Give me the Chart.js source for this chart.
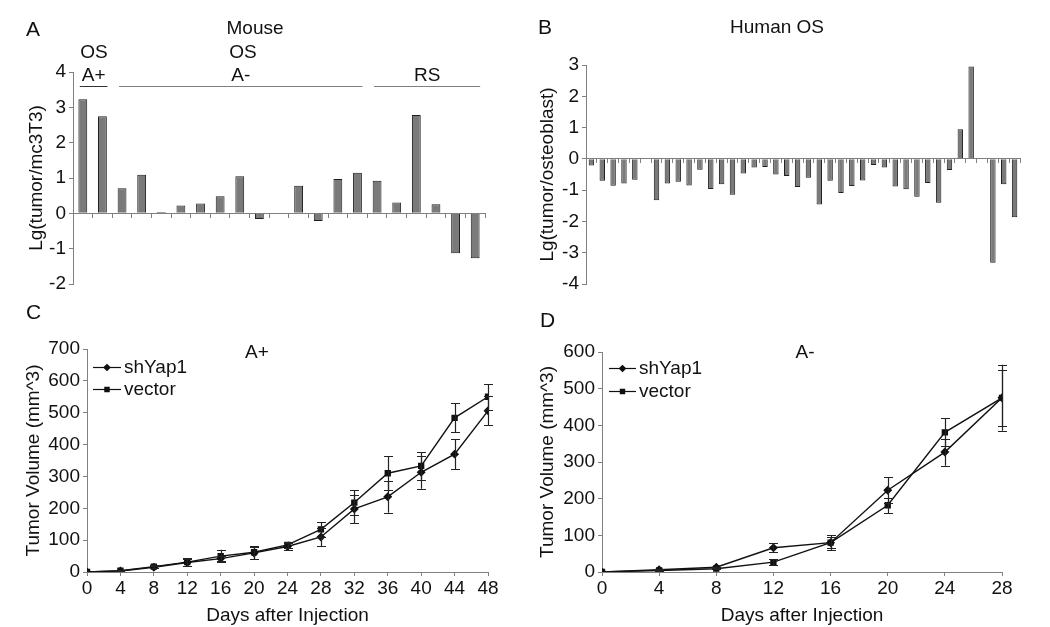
<!DOCTYPE html>
<html>
<head>
<meta charset="utf-8">
<script src="https://cdn.jsdelivr.net/npm/chart.js@4.4.1/dist/chart.umd.min.js"></script>
<style>
  body { margin: 0; background: #fff; width: 1050px; height: 627px; overflow: hidden; position: relative; }
  canvas { position: absolute; }
</style>
</head>
<body>
<canvas id="chartA" width="520" height="300" style="left:0;top:0"></canvas>
<canvas id="chartB" width="530" height="300" style="left:520px;top:0"></canvas>
<canvas id="chartC" width="520" height="327" style="left:0;top:300px"></canvas>
<canvas id="chartD" width="530" height="327" style="left:520px;top:300px"></canvas>
<script>
// panel A: mouse tumours vs mc3T3
const mouseSamples = ['1','2','3','4','5','6','7','8','9','10','11','12','13','14','15','16','17','18','19','20','21'];
const mouseValues = [3.23, 2.75, 0.71, 1.09, 0.04, 0.22, 0.28, 0.48, 1.05, -0.16, null,
                     0.78, -0.22, 0.97, 1.15, 0.92, 0.31, 2.78, 0.26, -1.13, -1.27];
// groups: [label, first index, last index]
const mouseGroups = [['A+', 0, 1], ['A-', 2, 14], ['RS', 15, 20]];

// panel B: human OS vs osteoblast
const humanSamples = ['1','2','3','4','5','6','7','8','9','10','11','12','13','14','15','16','17','18','19','20',
                      '21','22','23','24','25','26','27','28','29','30','31','32','33','34','35','36','37','38','39','40'];
const humanValues = [-0.21, -0.70, -0.86, -0.79, -0.67, null, -1.32, -0.79, -0.73, -0.85,
                     -0.35, -0.96, -0.81, -1.15, -0.47, -0.28, -0.26, -0.50, -0.55, -0.90,
                     -0.60, -1.46, -0.70, -1.09, -0.87, -0.69, -0.20, -0.28, -0.88, -0.97,
                     -1.21, -0.77, -1.40, -0.36, 0.95, 2.95, null, -3.32, -0.81, -1.87];

// panel C: A+ xenograft growth
const daysC = [0, 4, 8, 12, 16, 20, 24, 28, 32, 36, 40, 44, 48];
const shYap1C = [0, 3, 15, 30, 42, 60, 80, 110, 198, 236, 313, 370, 506];
const shYap1ErrC = [0, 1, 3, 12, 8, 20, 10, 28, 44, 50, 52, 47, 45];
const vectorC = [0, 4, 17, 31, 50, 62, 85, 134, 218, 310, 333, 484, 550];
const vectorErrC = [0, 1, 4, 12, 20, 20, 10, 23, 39, 54, 43, 46, 40];

// panel D: A- xenograft growth
const daysD = [0, 4, 8, 12, 16, 20, 24, 28];
const shYap1D = [0, 6, 13, 66, 80, 223, 327, 475];
const shYap1ErrD = [0, 1, 2, 12, 15, 35, 37, 76];
const vectorD = [0, 4, 9, 27, 80, 182, 381, 475];
const vectorErrD = [0, 1, 2, 8, 20, 21, 38, 90];

const FONT = '"Liberation Sans", Arial, sans-serif';
const INK = '#111';
const AXIS = '#808080';
const TICK = 19, TITLE = 19;
Chart.defaults.font.family = FONT;
Chart.defaults.color = INK;
Chart.defaults.animation = false;

// free text labels, given in canvas pixels
const notesPlugin = {
  id: 'notes',
  afterDraw(chart, args, opts) {
    const ctx = chart.ctx;
    ctx.save();
    ctx.fillStyle = INK;
    ctx.textBaseline = 'middle';
    (opts.items || []).forEach(n => {
      ctx.font = (n.size || TITLE) + 'px ' + FONT;
      ctx.textAlign = n.align || 'center';
      ctx.fillText(n.text, n.x, n.y);
    });
    ctx.restore();
  }
};

// group bars with a line and a label above (panel A)
const groupsPlugin = {
  id: 'groups',
  afterDraw(chart, args, opts) {
    if (!opts.list) return;
    const ctx = chart.ctx, x = chart.scales.x;
    ctx.save();
    ctx.font = TITLE + 'px ' + FONT;
    ctx.textAlign = 'center';
    ctx.textBaseline = 'middle';
    opts.list.forEach((g, i) => {
      const x0 = x.getPixelForValue(g[1]) - 3;
      const x1 = x.getPixelForValue(g[2]) + 5;
      ctx.strokeStyle = i === 0 ? '#333' : AXIS;
      ctx.lineWidth = 1;
      ctx.beginPath();
      ctx.moveTo(x0, opts.lineY + 0.5);
      ctx.lineTo(x1, opts.lineY + 0.5);
      ctx.stroke();
      ctx.fillStyle = INK;
      ctx.fillText(g[0], (x0 + x1) / 2, opts.lineY - 10);
    });
    ctx.restore();
  }
};

// vertical error bars with caps
const errorBarsPlugin = {
  id: 'errorBars',
  afterDatasetsDraw(chart) {
    const ctx = chart.ctx, y = chart.scales.y;
    ctx.save();
    ctx.strokeStyle = '#222';
    ctx.lineWidth = 1.2;
    chart.data.datasets.forEach((ds, di) => {
      if (!ds.errors) return;
      const meta = chart.getDatasetMeta(di);
      meta.data.forEach((pt, i) => {
        const err = ds.errors[i];
        if (!err) return;
        const v = ds.data[i].y;
        const top = y.getPixelForValue(v + err), bot = y.getPixelForValue(v - err);
        const px = Math.round(pt.x) + 0.5;
        ctx.beginPath();
        ctx.moveTo(px, top); ctx.lineTo(px, bot);
        ctx.moveTo(px - 4.5, Math.round(top) + 0.5); ctx.lineTo(px + 4.5, Math.round(top) + 0.5);
        ctx.moveTo(px - 4.5, Math.round(bot) + 0.5); ctx.lineTo(px + 4.5, Math.round(bot) + 0.5);
        ctx.stroke();
      });
    });
    ctx.restore();
  }
};

// legend: line segment with marker, then text
const lineLegendPlugin = {
  id: 'lineLegend',
  afterDraw(chart, args, opts) {
    if (opts.x === undefined) return;
    const ctx = chart.ctx;
    ctx.save();
    chart.data.datasets.forEach((ds, i) => {
      const yy = opts.y + i * opts.gap;
      ctx.strokeStyle = '#111';
      ctx.lineWidth = 1.2;
      ctx.beginPath();
      ctx.moveTo(opts.x, yy + 0.5);
      ctx.lineTo(opts.x + opts.len, yy + 0.5);
      ctx.stroke();
      ctx.fillStyle = '#111';
      Chart.helpers.drawPoint(ctx, {
        pointStyle: ds.pointStyle, radius: 3, rotation: 0, borderWidth: 1
      }, opts.x + opts.len / 2, yy + 0.5);
      ctx.fillStyle = INK;
      ctx.font = TITLE + 'px ' + FONT;
      ctx.textAlign = 'left';
      ctx.textBaseline = 'middle';
      ctx.fillText(ds.label, opts.x + opts.len + 3, yy + 1);
    });
    ctx.restore();
  }
};

function fixWidth(w) { return scale => { scale.width = w; }; }

function barChart(id, labels, values, cfg) {
  return new Chart(document.getElementById(id), {
    type: 'bar',
    data: {
      labels: labels,
      datasets: [{
        data: values,
        backgroundColor: '#7a7a7a',
        borderColor: '#1e1e1e',
        borderWidth: 1,
        barPercentage: cfg.barPct,
        categoryPercentage: 1
      }]
    },
    plugins: [notesPlugin, groupsPlugin],
    options: {
      responsive: false,
      layout: { padding: cfg.padding },
      plugins: {
        legend: { display: false },
        tooltip: { enabled: false },
        notes: { items: cfg.notes },
        groups: cfg.groups || {}
      },
      scales: {
        x: {
          position: { y: 0 },
          ticks: { display: false },
          grid: { drawOnChartArea: false, tickLength: 4, color: AXIS, offset: true },
          border: { color: AXIS },
          afterFit: scale => { scale.height = 0; }
        },
        y: {
          min: cfg.min, max: cfg.max,
          ticks: { stepSize: 1, font: { size: TICK }, color: INK, padding: 3 },
          grid: { drawOnChartArea: false, tickLength: 4, color: AXIS },
          border: { color: AXIS },
          title: { display: true, text: cfg.yTitle, font: { size: TITLE }, color: INK },
          afterFit: fixWidth(cfg.yWidth)
        }
      }
    }
  });
}

function growthChart(id, days, sh, shErr, vec, vecErr, cfg) {
  const pts = (d, v) => d.map((x, i) => ({ x: x, y: v[i] }));
  return new Chart(document.getElementById(id), {
    type: 'line',
    data: {
      datasets: [
        { label: 'shYap1', data: pts(days, sh), errors: shErr, borderColor: '#111', borderWidth: 1.4,
          pointStyle: 'rectRot', pointRadius: 3.5, pointBackgroundColor: '#111', pointBorderColor: '#111' },
        { label: 'vector', data: pts(days, vec), errors: vecErr, borderColor: '#111', borderWidth: 1.4,
          pointStyle: 'rect', pointRadius: 3.5, pointBackgroundColor: '#111', pointBorderColor: '#111' }
      ]
    },
    plugins: [notesPlugin, errorBarsPlugin, lineLegendPlugin],
    options: {
      responsive: false,
      layout: { padding: cfg.padding },
      plugins: {
        legend: { display: false },
        tooltip: { enabled: false },
        notes: { items: cfg.notes },
        lineLegend: cfg.legend
      },
      scales: {
        x: {
          type: 'linear', min: 0, max: cfg.xMax,
          ticks: { stepSize: 4, font: { size: TICK }, color: INK, padding: 1 },
          grid: { drawOnChartArea: false, tickLength: 4, color: AXIS },
          border: { color: AXIS },
          title: { display: true, text: 'Days after Injection', font: { size: TITLE }, color: INK, padding: { top: 0, bottom: 0 } },
          afterFit: scale => { scale.height = 55; }
        },
        y: {
          min: 0, max: cfg.yMax,
          ticks: { stepSize: 100, font: { size: TICK }, color: INK, padding: 3 },
          grid: { drawOnChartArea: false, tickLength: 4, color: AXIS },
          border: { color: AXIS },
          title: { display: true, text: 'Tumor Volume (mm^3)', font: { size: TITLE }, color: INK },
          afterFit: fixWidth(cfg.yWidth)
        }
      }
    }
  });
}

barChart('chartA', mouseSamples, mouseValues, {
  min: -2, max: 4, barPct: 0.45, yWidth: 52, yTitle: 'Lg(tumor/mc3T3)',
  padding: { left: 21, top: 72, right: 35, bottom: 16 },
  groups: { list: mouseGroups, lineY: 86 },
  notes: [
    { text: 'A', x: 26, y: 30, size: 21, align: 'left' },
    { text: 'Mouse', x: 255, y: 29 },
    { text: 'OS', x: 94, y: 53 },
    { text: 'OS', x: 243, y: 53 }
  ]
});

barChart('chartB', humanSamples, humanValues, {
  min: -4, max: 3, barPct: 0.5, yWidth: 54, yTitle: 'Lg(tumor/osteoblast)',
  padding: { left: 12, top: 65, right: 30, bottom: 16 },
  notes: [
    { text: 'B', x: 18, y: 28, size: 21, align: 'left' },
    { text: 'Human OS', x: 257, y: 28 }
  ]
});

growthChart('chartC', daysC, shYap1C, shYap1ErrC, vectorC, vectorErrC, {
  xMax: 48, yMax: 700, yWidth: 69,
  padding: { left: 18, top: 49, right: 32, bottom: 0 },
  legend: { x: 93, y: 67, gap: 22, len: 28 },
  notes: [
    { text: 'C', x: 26, y: 13, size: 21, align: 'left' },
    { text: 'A+', x: 257, y: 53 }
  ]
});

growthChart('chartD', daysD, shYap1D, shYap1ErrD, vectorD, vectorErrD, {
  xMax: 28, yMax: 600, yWidth: 70,
  padding: { left: 12, top: 52, right: 48, bottom: 0 },
  legend: { x: 89, y: 68, gap: 23, len: 27 },
  notes: [
    { text: 'D', x: 20, y: 21, size: 21, align: 'left' },
    { text: 'A-', x: 285, y: 53 }
  ]
});
</script>
</body>
</html>
